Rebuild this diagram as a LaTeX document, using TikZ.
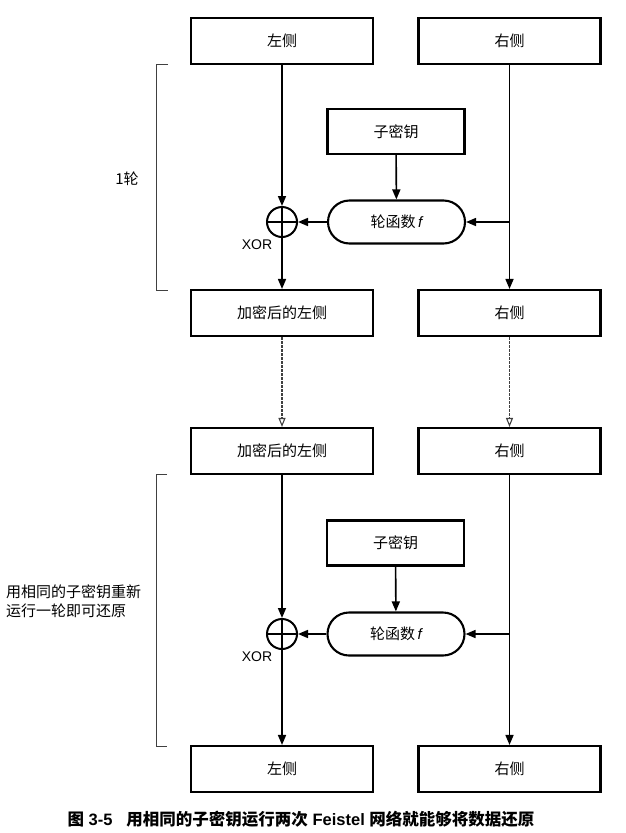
\documentclass[tikz,border=0pt]{standalone}
\usepackage{fontspec}
\setmainfont{Liberation Sans}
\newfontfamily\cjk{Noto Sans CJK SC}
\usetikzlibrary{arrows.meta,shapes.misc}
\begin{document}
\begin{tikzpicture}[x=1pt,y=-1pt,
  box/.style={draw, line width=2.1pt, minimum width=182pt, minimum height=46pt, inner sep=0pt, font=\cjk\fontsize{15}{18}\selectfont},
  keybox/.style={draw, line width=2.1pt, minimum width=137pt, minimum height=45pt, inner sep=0pt, font=\cjk\fontsize{15}{18}\selectfont},
  fbox/.style={draw, line width=2.1pt, rounded rectangle, minimum width=137pt, minimum height=43pt, inner sep=0pt, font=\cjk\fontsize{15}{18}\selectfont},
  xorc/.style={draw, circle, line width=2pt, minimum size=30pt, inner sep=0pt},
  conn/.style={line width=1.6pt, -{Triangle[length=10pt,width=8pt]}},
  dconn/.style={line width=1.1pt, draw=black!75, dash pattern=on 2.5pt off 1.5pt, -{Triangle[open,length=9pt,width=7pt]}},
  brk/.style={line width=1pt, draw=black!75},
  lbl/.style={font=\cjk\fontsize{15}{19}\selectfont, align=left, inner sep=0pt}
]
\useasboundingbox (0,0) rectangle (626,833);

% round 1
\node[box] (L0) at (282,41) {左侧};
\node[box] (R0) at (509.5,41) {右侧};
\node[keybox] (K1) at (396,131.5) {子密钥};
\node[fbox] (F1) at (396.5,222) {轮函数\,{\rmfamily\itshape f}};
\node[xorc] (X1) at (282,222) {};
\draw[line width=1.6pt] (X1.north) -- (X1.south) (X1.west) -- (X1.east);
\node[font=\fontsize{14}{16}\selectfont, inner sep=0pt] (XL1) at (257,245) {XOR};
\node[box] (L1) at (282,313) {加密后的左侧};
\node[box] (R1) at (509.5,313) {右侧};

\draw[conn] (L0) -- (X1.north);
\draw[conn] (X1.south) -- (L1);
\draw[conn] (R0) -- (R1);
\draw[conn] (K1) -- (F1);
\coordinate (B1) at (R0.south |- F1.east);
\draw[conn] (B1) -- (F1.east);
\draw[conn] (F1.west) -- (X1.east);

% bracket 1
\coordinate (b1t) at (168,64);
\coordinate (b1b) at (168,290);
\draw[brk] (b1t) -- (156,64) -- (156,290) -- (b1b);
\node[lbl] (T1) at (127,179) {1轮};

% transfer
\node[box] (L2) at (282,451) {加密后的左侧};
\node[box] (R2) at (509.5,451) {右侧};
\draw[dconn] (L1) -- (L2);
\draw[dconn] (R1) -- (R2);

% round 2
\node[keybox] (K2) at (395.5,543) {子密钥};
\node[fbox] (F2) at (396,634) {轮函数\,{\rmfamily\itshape f}};
\node[xorc] (X2) at (282,634) {};
\draw[line width=1.6pt] (X2.north) -- (X2.south) (X2.west) -- (X2.east);
\node[font=\fontsize{14}{16}\selectfont, inner sep=0pt] (XL2) at (257,657) {XOR};
\node[box] (L3) at (282,769) {左侧};
\node[box] (R3) at (509.5,769) {右侧};

\draw[conn] (L2) -- (X2.north);
\draw[conn] (X2.south) -- (L3);
\draw[conn] (R2) -- (R3);
\draw[conn] (K2) -- (F2);
\coordinate (B2) at (R2.south |- F2.east);
\draw[conn] (B2) -- (F2.east);
\draw[conn] (F2.west) -- (X2.east);

% bracket 2
\coordinate (b2t) at (167,474);
\coordinate (b2b) at (167,746);
\draw[brk] (b2t) -- (156,474) -- (156,746) -- (b2b);
\node[lbl, anchor=west] (T2) at (6,601) {用相同的子密钥重新\\运行一轮即可还原};

% caption
\node[font=\bfseries\fontsize{16.5}{20}\selectfont, inner sep=0pt] (CAP) at (301,819)
  {{\cjk 图} 3-5\hspace{14pt}{\cjk 用相同的子密钥运行两次} Feistel {\cjk 网络就能够将数据还原}};
\end{tikzpicture}
\end{document}
